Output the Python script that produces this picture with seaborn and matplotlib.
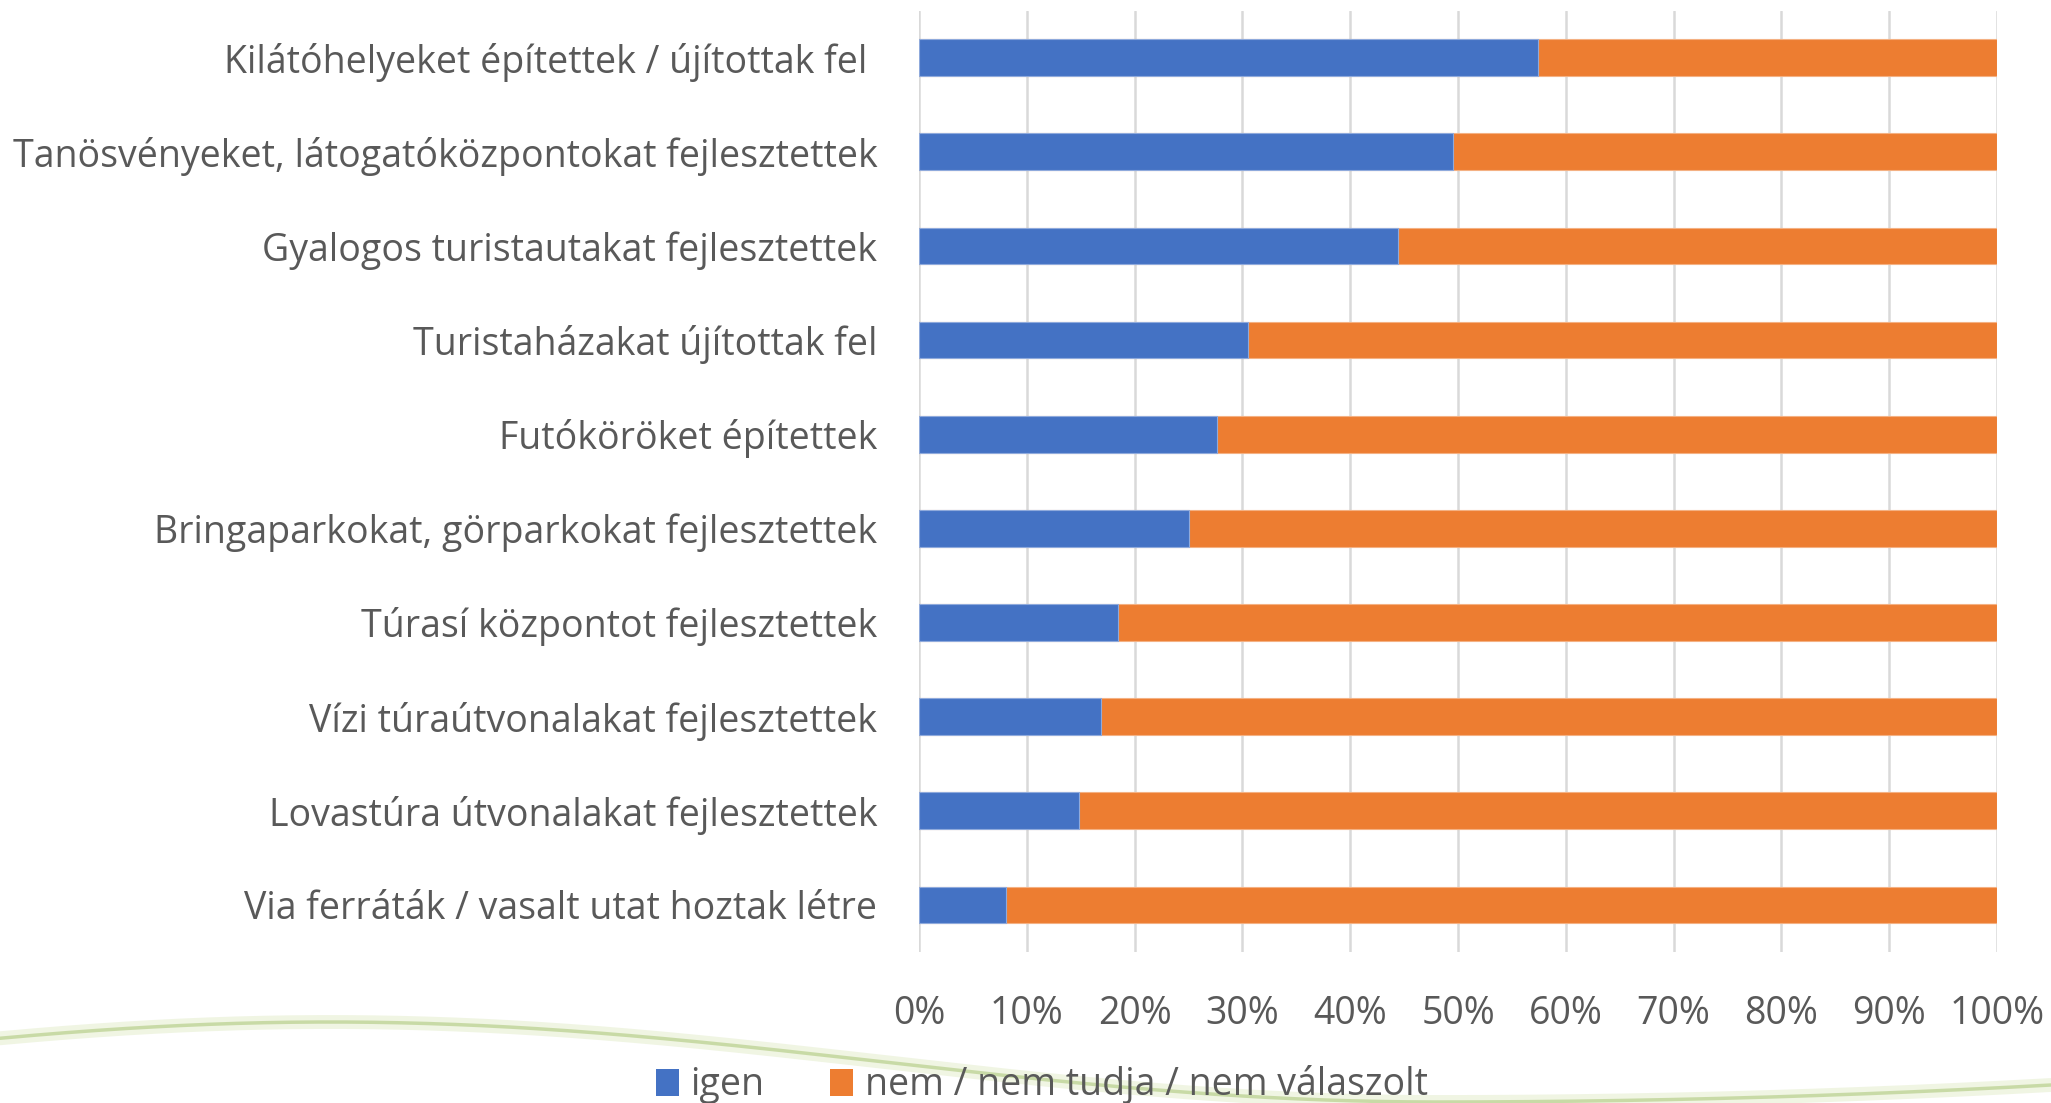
import numpy as np
import pandas as pd
import matplotlib
matplotlib.use("Agg")
import matplotlib.pyplot as plt
from matplotlib.patches import Patch
import seaborn as sns

# Survey answers: share of respondents per development type
categories = [
    "Kilátóhelyeket építettek / újítottak fel ",
    "Tanösvényeket, látogatóközpontokat fejlesztettek",
    "Gyalogos turistautakat fejlesztettek",
    "Turistaházakat újítottak fel",
    "Futóköröket építettek",
    "Bringaparkokat, görparkokat fejlesztettek",
    "Túrasí központot fejlesztettek",
    "Vízi túraútvonalakat fejlesztettek",
    "Lovastúra útvonalakat fejlesztettek",
    "Via ferráták / vasalt utat hoztak létre",
]
igen = [57.4, 49.5, 44.4, 30.5, 27.6, 25.0, 18.5, 16.9, 14.8, 8.1]
nem = [42.6, 50.5, 55.6, 69.5, 72.4, 75.0, 81.5, 83.1, 85.2, 91.9]
series_names = ["igen", "nem / nem tudja / nem válaszolt"]
tick_values = [0, 10, 20, 30, 40, 50, 60, 70, 80, 90, 100]

BLUE = "#4472C4"
ORANGE = "#ED7D31"
TEXT = "#595959"
GRID = "#D9D9D9"
FONT = "Open Sans"
FS = 27

sns.set_theme(style="white")
plt.rcParams["font.family"] = [FONT, "DejaVu Sans"]

df = pd.DataFrame({"kategoria": categories, "igen": igen, "nem": nem})
df["osszes"] = df["igen"] + df["nem"]

fig = plt.figure(figsize=(20.51, 11.03), dpi=100)
fig.patch.set_facecolor("white")

# decorative green swoosh along the bottom of the slide
xs = np.linspace(0, 2051, 600)
ys = np.where(
    xs <= 1438,
    1062 - 40 * np.cos(2 * np.pi * (xs - 330) / 2216),
    1102 - 17 * ((xs - 1438) / 613) ** 2,
)
fx = xs / 2051
fy = 1 - ys / 1103
fig.add_artist(plt.Line2D(fx, fy, transform=fig.transFigure, color="#eaf1d8",
                          lw=10, alpha=0.7, zorder=0, solid_capstyle="round"))
fig.add_artist(plt.Line2D(fx, fy, transform=fig.transFigure, color="#c2d69c",
                          lw=2.5, alpha=0.85, zorder=0))

ax = fig.add_axes([919 / 2051, 1 - 952 / 1103, (1997 - 919) / 2051, (952 - 10.5) / 1103])
ax.set_facecolor("none")

# full-length bar (orange) first, then the "igen" share in blue on top
sns.barplot(data=df, y="kategoria", x="osszes", color=ORANGE, orient="h",
            width=0.39, ax=ax, saturation=1, edgecolor="#f4b183", linewidth=0.8,
            zorder=2)
sns.barplot(data=df, y="kategoria", x="igen", color=BLUE, orient="h",
            width=0.39, ax=ax, saturation=1, edgecolor="#8faadc", linewidth=0.8,
            zorder=3)

ax.set_xlim(0, 100)
ax.set_ylim(len(categories) - 0.5, -0.5)
ax.set_xticks(tick_values)
ax.set_xticklabels([f"{v}%" for v in tick_values])
ax.set_xlabel("")
ax.set_ylabel("")
ax.xaxis.grid(True, color=GRID, linewidth=1.8, zorder=0)
ax.yaxis.grid(False)
ax.set_axisbelow(True)
for s in ax.spines.values():
    s.set_visible(False)
ax.tick_params(axis="x", length=0, pad=31, labelsize=FS, labelcolor=TEXT)
ax.tick_params(axis="y", length=0, pad=30, labelsize=FS, labelcolor=TEXT)

handles = [Patch(facecolor=BLUE, edgecolor="none"),
           Patch(facecolor=ORANGE, edgecolor="none")]
fig.legend(handles, series_names, loc="center", ncol=2, frameon=False,
           bbox_to_anchor=(0.508, 1 - 1085 / 1103), fontsize=FS,
           labelcolor=TEXT, handlelength=0.62, handleheight=0.75,
           handletextpad=0.3, columnspacing=1.75)

fig.savefig("out.png", dpi=100, facecolor="white")
